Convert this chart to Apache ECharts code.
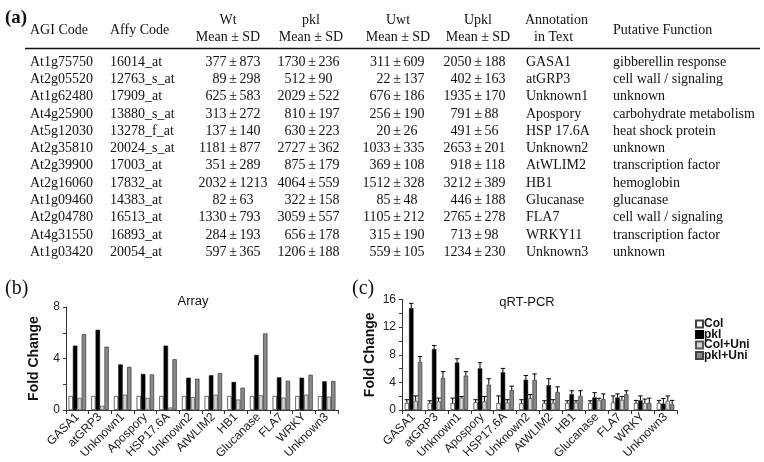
<!DOCTYPE html>
<html>
<head>
<meta charset="utf-8">
<script src="https://cdn.jsdelivr.net/npm/echarts@6/dist/echarts.min.js"></script>
<style>
html,body{margin:0;padding:0;background:#fff;}
#chart{width:764px;height:462px;}
</style>
</head>
<body>
<div id="chart"></div>
<script>
// ---------- Table data (a) ----------
const agiCodes = ['At1g75750','At2g05520','At1g62480','At4g25900','At5g12030','At2g35810','At2g39900','At2g16060','At1g09460','At2g04780','At4g31550','At1g03420'];
const affyCodes = ['16014_at','12763_s_at','17909_at','13880_s_at','13278_f_at','20024_s_at','17003_at','17832_at','14383_at','16513_at','16893_at','20054_at'];
const wtMean = [377,89,625,313,137,1181,351,2032,82,1330,284,597];
const wtSD = [873,298,583,272,140,877,289,1213,63,793,193,365];
const pklMean = [1730,512,2029,810,630,2727,875,4064,322,3059,656,1206];
const pklSD = [236,90,522,197,223,362,179,559,158,557,178,188];
const uwtMean = [311,22,676,256,20,1033,369,1512,85,1105,315,559];
const uwtSD = [609,137,186,190,26,335,108,328,48,212,190,105];
const upklMean = [2050,402,1935,791,491,2653,918,3212,446,2765,713,1234];
const upklSD = [188,163,170,88,56,201,118,389,188,278,98,230];
const annotations = ['GASA1','atGRP3','Unknown1','Apospory','HSP 17.6A','Unknown2','AtWLIM2','HB1','Glucanase','FLA7','WRKY11','Unknown3'];
const functions = ['gibberellin response','cell wall / signaling','unknown','carbohydrate metabolism','heat shock protein','unknown','transcription factor','hemoglobin','glucanase','cell wall / signaling','transcription factor','unknown'];

// ---------- Chart data (b) Array ----------
const categories = ['GASA1','atGRP3','Unknown1','Apospory','HSP17.6A','Unknown2','AtWLIM2','HB1','Glucanase','FLA7','WRKY','Unknown3'];
const seriesNames = ['Col','pkl','Col+Uni','pkl+Uni'];
const arrCol    = [1.1,1.1,1.1,1.1,1.1,1.1,1.1,1.1,1.1,1.1,1.1,1.1];
const arrPkl    = [5.0,6.23,3.54,2.8,5.0,2.51,2.7,2.18,4.28,2.54,2.51,2.23];
const arrColUni = [0.95,0.33,1.2,0.95,0.2,1.0,1.2,0.82,1.15,0.97,1.2,1.05];
const arrPklUni = [5.9,4.92,3.36,2.77,3.95,2.44,2.87,1.74,5.95,2.28,2.74,2.26];
const arrTicks = [0,4,8];

// ---------- Chart data (c) qRT-PCR ----------
const qCol       = [1.03,1.03,1.03,1.12,1.03,1.03,1.03,1.03,1.03,1.12,1.03,1.03];
const qColErr    = [0.47,0.32,0.7,0.38,1.02,0.47,0.32,0.32,0.32,0.93,0.37,0.37];
const qPkl       = [14.74,8.83,6.87,6.03,5.47,4.39,3.6,2.29,1.82,1.82,1.4,0.93];
const qPklErr    = [0.7,0.52,0.56,0.84,0.56,0.61,0.93,0.51,0.7,0.52,0.65,0.75];
const qColUni    = [1.35,1.26,1.8,1.26,1.1,1.73,1.03,1.1,1.4,1.5,1.03,1.35];
const qColUniErr = [0.7,0.47,0.16,0.7,0.4,0.51,0.47,0.25,0.3,0.46,0.56,0.7];
const qPklUni    = [6.96,4.67,5.0,3.69,2.9,4.39,2.62,2.05,1.59,2.29,1.03,0.84];
const qPklUniErr = [0.8,0.89,0.56,0.84,0.56,0.84,0.74,0.75,0.75,0.51,0.7,0.56];
const qTicks = [0,4,8,12,16];

// ---------- Styles ----------
const serif = '"Liberation Serif", "DejaVu Serif", serif';
const sans = '"Liberation Sans", Arial, sans-serif';
const barStyles = [
  {color:'#ffffff', borderColor:'#444', borderWidth:0.8},
  {color:'#000000', borderColor:'#000', borderWidth:0.5},
  {color:'#d4d4d4', borderColor:'#555', borderWidth:0.8},
  {color:'#8a8a8a', borderColor:'#444', borderWidth:0.8}
];
const BW = 4.4;

// ---------- Table graphics ----------
const g = [];
function txt(s, x, y, opt){
  opt = opt || {};
  g.push({type:'text', silent:true, style:{
    text:String(s), x:x, y:y,
    textAlign:opt.align||'left', textVerticalAlign:'middle',
    fontFamily:opt.family||serif, fontSize:opt.size||14, fontWeight:opt.weight||'normal',
    fill:'#111'
  }});
}
txt('(a)', 5, 18, {size:19, weight:'bold'});
txt('(b)', 5, 289, {size:20});
txt('(c)', 352, 289, {size:20});

// headers
txt('AGI Code', 30, 30);
txt('Affy Code', 110, 30);
const pmCols = [233, 312, 397, 478];
const hdrCenters = [228, 311, 398, 478];
const hdrNames = ['Wt','pkl','Uwt','Upkl'];
hdrNames.forEach((h,i)=>{
  txt(h, hdrCenters[i], 20, {align:'center'});
  txt('Mean \u00B1 SD', hdrCenters[i], 37, {align:'center'});
});
txt('Annotation', 525, 20);
txt('in Text', 534, 37);
txt('Putative Function', 613, 30);
g.push({type:'line', silent:true, shape:{x1:25,y1:48.5,x2:760,y2:48.5}, style:{stroke:'#111', lineWidth:1.3}});

const meanCols = [wtMean, pklMean, uwtMean, upklMean];
const sdCols = [wtSD, pklSD, uwtSD, upklSD];
agiCodes.forEach((code,i)=>{
  const y = 62 + i*17.3;
  txt(code, 30, y);
  txt(affyCodes[i], 110, y);
  meanCols.forEach((col,c)=>{
    const pm = pmCols[c];
    txt(col[i], pm-6.5, y, {align:'right'});
    txt('\u00B1', pm, y, {align:'center'});
    txt(sdCols[c][i], pm+6.5, y);
  });
  txt(annotations[i], 526, y);
  txt(functions[i], 613, y);
});

// ---------- Chart helpers ----------
function xAxisDef(idx){
  return {
    type:'category', gridIndex:idx, data:categories,
    axisLine:{lineStyle:{color:'#333', width:1}},
    axisTick:{show:true, length:4, lineStyle:{color:'#333'}},
    axisLabel:{rotate:45, fontSize:12, fontFamily:sans, color:'#222', margin:5, interval:0}
  };
}
function yAxisDef(idx, max, ticks, gap){
  return {
    type:'value', gridIndex:idx, min:0, max:max, interval:2,
    name:'Fold Change', nameLocation:'middle', nameRotate:90, nameGap:gap,
    nameTextStyle:{fontSize:14, fontWeight:'bold', fontFamily:sans, color:'#111'},
    axisLine:{show:true, lineStyle:{color:'#333', width:1}},
    axisTick:{show:true, length:3, lineStyle:{color:'#333'}},
    splitLine:{show:false},
    axisLabel:{fontSize:12, fontFamily:sans, color:'#222', margin:6,
      formatter:v => ticks.indexOf(v) >= 0 ? String(v) : ''}
  };
}

const arrData = [arrCol, arrPkl, arrColUni, arrPklUni];
const qData = [qCol, qPkl, qColUni, qPklUni];
const qErr = [qColErr, qPklErr, qColUniErr, qPklUniErr];

const series = [];
seriesNames.forEach((n,k)=>{
  series.push({name:n, type:'bar', xAxisIndex:0, yAxisIndex:0, data:arrData[k],
    barWidth:BW, barGap:'0%', itemStyle:barStyles[k], silent:true});
});
seriesNames.forEach((n,k)=>{
  series.push({name:n, type:'bar', xAxisIndex:1, yAxisIndex:1, data:qData[k],
    barWidth:BW, barGap:'0%', itemStyle:barStyles[k], silent:true});
});
seriesNames.forEach((n,k)=>{
  const off = (k-1.5)*BW;
  series.push({
    type:'custom', xAxisIndex:1, yAxisIndex:1, silent:true, z:5,
    data: categories.map((c,i)=>[i, qData[k][i], qErr[k][i]]),
    encode:{x:0, y:1},
    renderItem:function(params, api){
      const i = api.value(0), v = api.value(1), e = api.value(2);
      const p = api.coord([i, v]);
      const t = api.coord([i, v+e]);
      const x = p[0] + off;
      return {type:'group', children:[
        {type:'line', shape:{x1:x, y1:p[1], x2:x, y2:t[1]}, style:{stroke:'#000', lineWidth:1}},
        {type:'line', shape:{x1:x-2.2, y1:t[1], x2:x+2.2, y2:t[1]}, style:{stroke:'#000', lineWidth:1}}
      ]};
    }
  });
});

const option = {
  backgroundColor:'#ffffff',
  animation:false,
  title:[
    {text:'Array', left:188, top:290, textAlign:'center', textStyle:{fontSize:13, fontWeight:'normal', fontFamily:sans, color:'#111'}},
    {text:'qRT-PCR', left:522, top:291, textAlign:'center', textStyle:{fontSize:13, fontWeight:'normal', fontFamily:sans, color:'#111'}}
  ],
  legend:{
    data:seriesNames, orient:'vertical', left:695, top:318, padding:0,
    icon:'rect', itemWidth:7, itemHeight:7, itemGap:-1.5,
    textStyle:{fontSize:12, fontWeight:'bold', fontFamily:sans, color:'#111', padding:[0,0,0,-4]},
    selectedMode:false
  },
  grid:[
    {left:66, top:307, width:272, height:104.7, containLabel:false},
    {left:402, top:299.5, width:275, height:114.5, containLabel:false}
  ],
  xAxis:[xAxisDef(0), xAxisDef(1)],
  yAxis:[yAxisDef(0, 8, arrTicks, 25), yAxisDef(1, 16, qTicks, 25)],
  graphic:g,
  series:series
};

const chart = echarts.init(document.getElementById('chart'), null, {renderer:'canvas'});
chart.setOption(option);
</script>
</body>
</html>
